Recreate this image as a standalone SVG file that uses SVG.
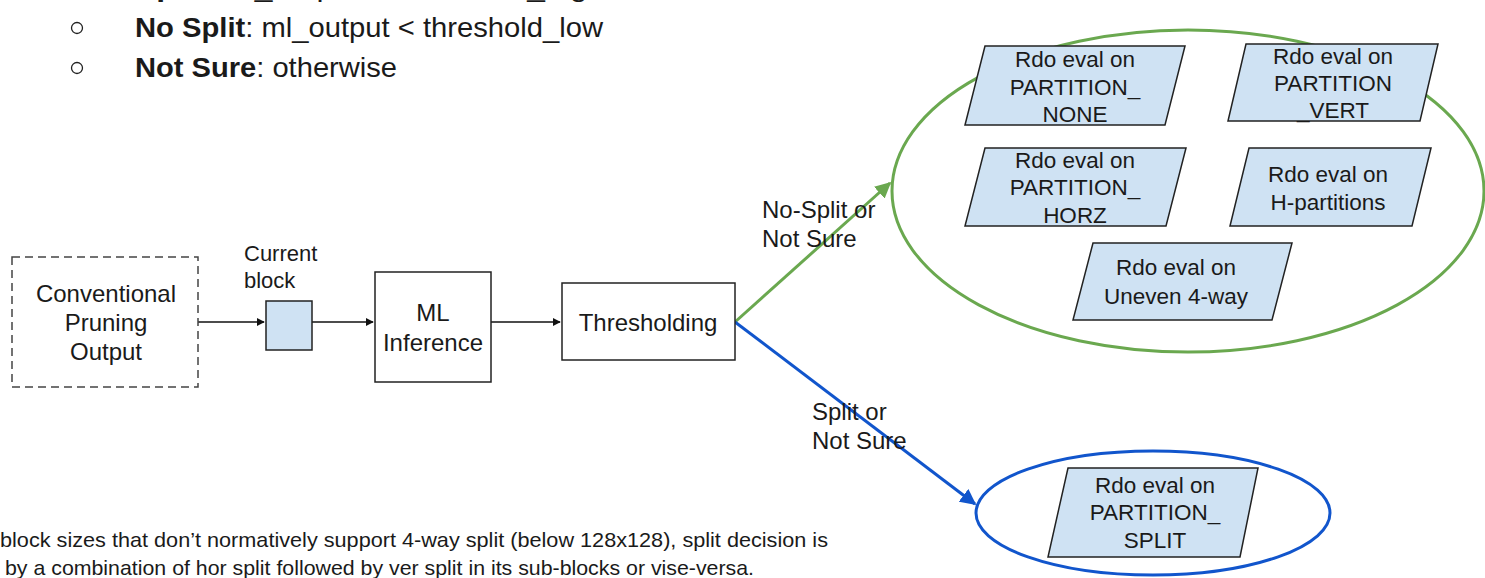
<svg xmlns="http://www.w3.org/2000/svg" width="1485" height="578" viewBox="0 0 1485 578">
  <style>
    .t { font-family: "Liberation Sans", Arial, sans-serif; fill: #1a1a1a; }
    .doc { font-size: 28.5px; }
    .small { font-size: 21px; }
    .lbl { font-size: 24px; text-anchor: middle; }
    .rdo { font-size: 22.5px; text-anchor: middle; }
    .edge { font-size: 24px; }
    .cur { font-size: 22px; }
    .box { fill: #ffffff; stroke: #222; stroke-width: 1.5; }
    .para { fill: #cfe2f3; stroke: #222; stroke-width: 1.5; }
    .flow { stroke: #111; stroke-width: 1.5; fill: none; }
  </style>
  <defs>
    <marker id="ah" viewBox="0 0 10 10" refX="9" refY="5" markerWidth="8" markerHeight="8" markerUnits="userSpaceOnUse" orient="auto">
      <path d="M0,0 L10,5 L0,10 z" fill="#111"/>
    </marker>
    <marker id="ahG" viewBox="0 0 10 10" refX="9" refY="5" markerWidth="16" markerHeight="16" markerUnits="userSpaceOnUse" orient="auto">
      <path d="M0,0 L10,5 L0,10 z" fill="#6aa84f"/>
    </marker>
    <marker id="ahB" viewBox="0 0 10 10" refX="9" refY="5" markerWidth="16" markerHeight="16" markerUnits="userSpaceOnUse" orient="auto">
      <path d="M0,0 L10,5 L0,10 z" fill="#1155cc"/>
    </marker>
  </defs>

  <!-- document text around the figure -->
  <g id="doc-text">
    <text class="t doc" x="135" y="-4" textLength="470" lengthAdjust="spacingAndGlyphs"><tspan font-weight="bold">Split</tspan>: ml_output &gt; threshold_high</text>
    <circle cx="77" cy="28" r="5.5" fill="none" stroke="#222" stroke-width="1.3"/>
    <text class="t doc" x="135" y="37" textLength="468" lengthAdjust="spacingAndGlyphs"><tspan font-weight="bold">No Split</tspan>: ml_output &lt; threshold_low</text>
    <circle cx="77" cy="68" r="5.5" fill="none" stroke="#222" stroke-width="1.3"/>
    <text class="t doc" x="135" y="77" textLength="262" lengthAdjust="spacingAndGlyphs"><tspan font-weight="bold">Not Sure</tspan>: otherwise</text>
    <text class="t small" x="0" y="547" textLength="828" lengthAdjust="spacingAndGlyphs">block sizes that don’t normatively support 4-way split (below 128x128), split decision  is</text>
    <text class="t small" x="5" y="575" textLength="749" lengthAdjust="spacingAndGlyphs">by a combination of hor split followed by ver split in its sub-blocks or vise-versa.</text>
  </g>

  <!-- connectors -->
  <g id="connectors">
    <line class="flow" x1="198" y1="322" x2="264" y2="322" marker-end="url(#ah)"/>
    <line class="flow" x1="312" y1="322" x2="373" y2="322" marker-end="url(#ah)"/>
    <line class="flow" x1="491" y1="322" x2="560" y2="322" marker-end="url(#ah)"/>
    <line x1="735" y1="322" x2="890" y2="183" stroke="#6aa84f" stroke-width="3" marker-end="url(#ahG)"/>
    <line x1="735" y1="322" x2="975" y2="504" stroke="#1155cc" stroke-width="3" marker-end="url(#ahB)"/>
    <text class="t edge" x="762" y="218">No-Split or</text>
    <text class="t edge" x="762" y="247">Not Sure</text>
    <text class="t edge" x="812" y="420">Split or</text>
    <text class="t edge" x="812" y="449">Not Sure</text>
  </g>

  <!-- groupings -->
  <g id="no-split-group">
    <ellipse cx="1188" cy="191" rx="296" ry="161" fill="none" stroke="#6aa84f" stroke-width="3"/>
  </g>
  <g id="split-group">
    <ellipse cx="1153" cy="513" rx="177" ry="62" fill="none" stroke="#1155cc" stroke-width="3"/>
  </g>

  <!-- pipeline nodes -->
  <g id="conventional-pruning">
    <rect x="12" y="257" width="186" height="130" fill="#fff" stroke="#444" stroke-width="1.5" stroke-dasharray="8,5"/>
    <text class="t lbl" x="106" y="302">Conventional</text>
    <text class="t lbl" x="106" y="331">Pruning</text>
    <text class="t lbl" x="106" y="360">Output</text>
  </g>
  <g id="current-block">
    <text class="t cur" x="244" y="261">Current</text>
    <text class="t cur" x="244" y="288">block</text>
    <rect x="266" y="301" width="46" height="49" class="para"/>
  </g>
  <g id="ml-inference">
    <rect class="box" x="375" y="272" width="116" height="110"/>
    <text class="t lbl" x="433" y="321">ML</text>
    <text class="t lbl" x="433" y="351">Inference</text>
  </g>
  <g id="thresholding">
    <rect class="box" x="562" y="283" width="173" height="77"/>
    <text class="t lbl" x="648" y="331">Thresholding</text>
  </g>

  <!-- RDO evaluation nodes -->
  <g id="rdo-none">
    <polygon class="para" points="985,46 1185,46 1165,125 965,125"/>
    <text class="t rdo" x="1075" y="67">Rdo eval on</text>
    <text class="t rdo" x="1075" y="95">PARTITION_</text>
    <text class="t rdo" x="1075" y="122">NONE</text>
  </g>
  <g id="rdo-vert">
    <polygon class="para" points="1246,44 1438,44 1420,121 1228,121"/>
    <text class="t rdo" x="1333" y="64">Rdo eval on</text>
    <text class="t rdo" x="1333" y="91">PARTITION</text>
    <text class="t rdo" x="1333" y="118">_VERT</text>
  </g>
  <g id="rdo-horz">
    <polygon class="para" points="985,148 1186,148 1166,226 965,226"/>
    <text class="t rdo" x="1075" y="168">Rdo eval on</text>
    <text class="t rdo" x="1075" y="195">PARTITION_</text>
    <text class="t rdo" x="1075" y="223">HORZ</text>
  </g>
  <g id="rdo-h-partitions">
    <polygon class="para" points="1249,148 1431,148 1412,226 1230,226"/>
    <text class="t rdo" x="1328" y="182">Rdo eval on</text>
    <text class="t rdo" x="1328" y="210">H-partitions</text>
  </g>
  <g id="rdo-uneven">
    <polygon class="para" points="1093,243 1292,243 1272,320 1073,320"/>
    <text class="t rdo" x="1176" y="275">Rdo eval on</text>
    <text class="t rdo" x="1176" y="304">Uneven 4-way</text>
  </g>
  <g id="rdo-split">
    <polygon class="para" points="1068,468 1258,468 1240,557 1048,557"/>
    <text class="t rdo" x="1155" y="493">Rdo eval on</text>
    <text class="t rdo" x="1155" y="520">PARTITION_</text>
    <text class="t rdo" x="1155" y="548">SPLIT</text>
  </g>
</svg>
